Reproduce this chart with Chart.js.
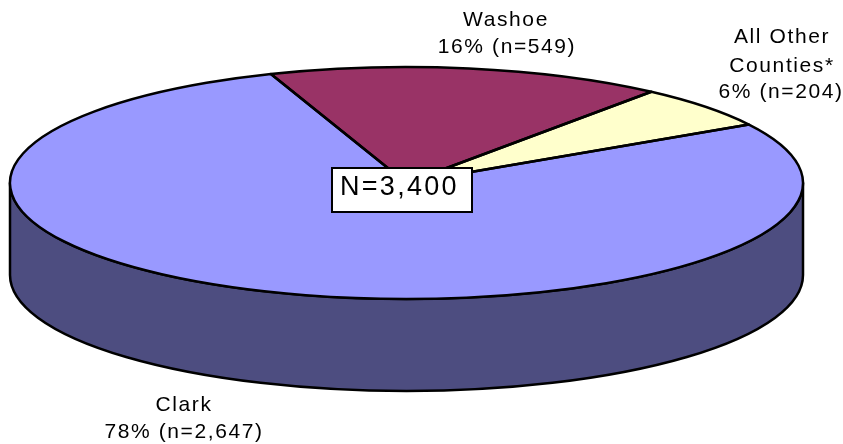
<!DOCTYPE html>
<html>
<head>
<meta charset="utf-8">
<title>Cases by county</title>
<style>
	html, body { margin: 0; padding: 0; background: #fff; }
	canvas { display: block; }
</style>
<script src="https://cdn.jsdelivr.net/npm/chart.js@4"></script>
</head>
<body>
<canvas id="pie3d" width="843" height="444"></canvas>
<script>
// order is clockwise, starting from the Washoe slice
const counties = ["Washoe", "All Other Counties*", "Clark"];
const counts = [549, 204, 2647];
const percents = ["16%", "6%", "78%"];
const totalLabel = "N=3,400";

const topColors = ["#993366", "#FFFFCC", "#9999FF"];
const sideColors = ["#4D1A33", "#808066", "#4D4D80"];

// the look of the tilted pie
const pieX = 406.5;
const pieY = 183;
const pieRadius = 396.5;
const tilt = 116 / 396.5;
const depth = 92;

const FONT = '"Liberation Sans", Arial, sans-serif';

// squash the flat pie of chart.js into an ellipse
const tiltPie = {
	id: "tiltPie",
	beforeDatasetsDraw(chart) {
		const ctx = chart.ctx;
		const arcs = chart.getDatasetMeta(0).data;
		// side wall, only the part that faces us (0..PI)
		ctx.save();
		ctx.lineWidth = 2.5;
		ctx.strokeStyle = "#000";
		ctx.lineJoin = "round";
		arcs.forEach((arc, i) => {
			const a = Math.max(arc.startAngle, 0);
			const b = Math.min(arc.endAngle, Math.PI);
			if (b <= a) return;
			ctx.beginPath();
			ctx.ellipse(pieX, pieY, arc.outerRadius, arc.outerRadius * tilt, 0, a, b);
			ctx.ellipse(pieX, pieY + depth, arc.outerRadius, arc.outerRadius * tilt, 0, b, a, true);
			ctx.closePath();
			ctx.fillStyle = sideColors[i];
			ctx.fill();
			ctx.stroke();
		});
		ctx.restore();
		// top face is drawn by chart.js under this transform
		ctx.save();
		const first = arcs[0];
		ctx.translate(pieX, pieY);
		ctx.scale(1, tilt);
		ctx.translate(-first.x, -first.y);
	},
	afterDatasetsDraw(chart) {
		const ctx = chart.ctx;
		ctx.restore();
		// outlines here so the line width is not squashed too
		ctx.save();
		ctx.lineWidth = 2.5;
		ctx.strokeStyle = "#000";
		ctx.lineJoin = "round";
		chart.getDatasetMeta(0).data.forEach((arc) => {
			ctx.beginPath();
			ctx.moveTo(pieX, pieY);
			ctx.ellipse(pieX, pieY, arc.outerRadius, arc.outerRadius * tilt, 0, arc.startAngle, arc.endAngle);
			ctx.closePath();
			ctx.stroke();
		});
		ctx.restore();
	},
	afterDraw(chart) {
		const ctx = chart.ctx;
		const fmt = (n) => n.toLocaleString("en-US");
		const line = (text, x, y) => ctx.fillText(text, x, y);
		ctx.save();
		ctx.fillStyle = "#000";
		ctx.font = "21px " + FONT;
		ctx.letterSpacing = "1.6px";
		ctx.textAlign = "center";
		// Washoe
		line(counties[0], 506, 26);
		line(`${percents[0]} (n=${fmt(counts[0])})`, 507, 53);
		// All other counties, wrapped in two lines
		line("All Other", 782, 43);
		line("Counties*", 782, 72);
		line(`${percents[1]} (n=${fmt(counts[1])})`, 781, 98);
		// Clark
		line(counties[2], 184, 411);
		line(`${percents[2]} (n=${fmt(counts[2])})`, 184, 438);
		// total box
		ctx.fillStyle = "#fff";
		ctx.strokeStyle = "#000";
		ctx.lineWidth = 2;
		ctx.fillRect(332, 168, 140, 44);
		ctx.strokeRect(332, 168, 140, 44);
		ctx.fillStyle = "#000";
		ctx.font = "27px " + FONT;
		ctx.letterSpacing = "2.3px";
		ctx.textAlign = "left";
		ctx.fillText(totalLabel, 340, 195);
		ctx.restore();
	}
};

new Chart(document.getElementById("pie3d"), {
	type: "pie",
	data: {
		labels: counties,
		datasets: [{
			data: counts,
			backgroundColor: topColors,
			borderWidth: 0,
			clip: false
		}]
	},
	options: {
		responsive: false,
		animation: false,
		radius: pieRadius,
		rotation: -20,
		plugins: {
			legend: { display: false },
			tooltip: { enabled: false }
		}
	},
	plugins: [tiltPie]
});
</script>
</body>
</html>
